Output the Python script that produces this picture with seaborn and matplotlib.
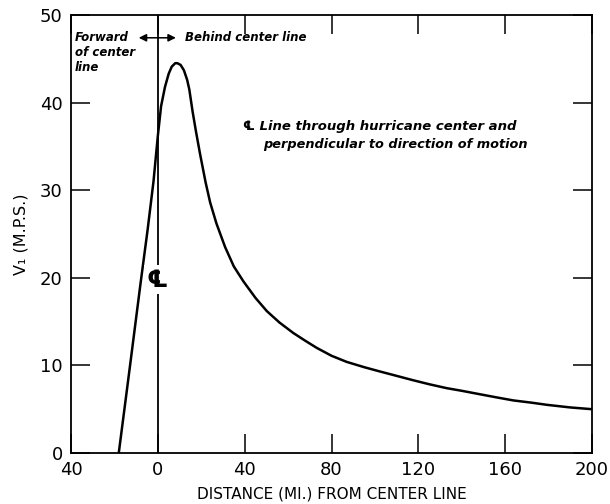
import matplotlib
matplotlib.use("Agg")
import matplotlib.pyplot as plt
import seaborn as sns
import pandas as pd

# Data
distance = [-18, -13, -8, -4.7, -2, 0, 1.5, 3.3, 5, 6.4, 8, 9, 10.5, 12, 13.5, 14.5,
            16, 17.5, 19.4, 22, 24.1, 27, 31, 35, 39.4, 45, 50.2, 56, 62.4, 68,
            73.2, 80, 87, 95, 102.4, 111.6, 117.7, 125, 133.1, 140, 148.5, 156,
            163.8, 172, 179.2, 190, 200]
v1 = [0, 9.6, 19.3, 25.5, 31, 36.2, 39.6, 41.8, 43.3, 44.1, 44.5, 44.5, 44.3, 43.7,
      42.6, 41.5, 39.0, 36.8, 34.2, 30.9, 28.6, 26.2, 23.5, 21.3, 19.6, 17.7,
      16.2, 14.9, 13.7, 12.8, 12.0, 11.1, 10.4, 9.8, 9.3, 8.7, 8.3, 7.85, 7.4,
      7.1, 6.7, 6.35, 6.0, 5.75, 5.5, 5.2, 5.0]
x_ticks = [-40, 0, 40, 80, 120, 160, 200]
x_tick_labels = ["40", "0", "40", "80", "120", "160", "200"]
y_ticks = [0, 10, 20, 30, 40, 50]
y_tick_labels = ["0", "10", "20", "30", "40", "50"]

df = pd.DataFrame({"distance": distance, "v1": v1})

sns.set_style("ticks")
plt.rcParams['font.family'] = ['DejaVu Sans']
plt.rcParams['text.color'] = 'black'
plt.rcParams['axes.labelcolor'] = 'black'

fig = plt.figure(figsize=(6.10, 5.04), dpi=100)
ax = fig.add_axes([0.1164, 0.1012, 0.8541, 0.8690])

sns.lineplot(data=df, x="distance", y="v1", ax=ax, color="black", linewidth=1.8,
             sort=False, estimator=None)

ax.set_xlim(-40, 200)
ax.set_ylim(0, 50)
ax.set_xticks(x_ticks)
ax.set_xticklabels(x_tick_labels)
ax.set_yticks(y_ticks)
ax.set_yticklabels(y_tick_labels)

for s in ax.spines.values():
    s.set_visible(True)
    s.set_linewidth(1.3)
    s.set_color("black")

ax.tick_params(axis="both", which="major", direction="in", length=13.5, width=1.1,
               top=True, right=True, labelsize=13, pad=6, colors="black")

ax.set_xlabel("DISTANCE (MI.) FROM CENTER LINE", fontsize=11, labelpad=5)
ax.set_ylabel("V\u2081 (M.P.S.)", fontsize=11.5, labelpad=8)

# center line
ax.axvline(0, color="black", linewidth=1.3, zorder=1)
ax.text(-0.3, 19.8, "\u2104", fontsize=17, fontweight="bold", ha="center", va="center",
        bbox=dict(facecolor="white", edgecolor="none", pad=1.5), zorder=3)

note = dict(fontsize=8.5, fontstyle="italic", fontweight="bold", color="black")
ax.text(-38.2, 48.2, "Forward\nof center\nline", ha="left", va="top",
        linespacing=1.2, **note)
ax.text(12.5, 47.4, "Behind center line", ha="left", va="center", **note)
ax.annotate("", xy=(-8.8, 47.4), xytext=(8.3, 47.4),
            arrowprops=dict(arrowstyle="<|-|>", color="black", lw=1.1,
                            mutation_scale=11, shrinkA=0, shrinkB=0))
ax.text(39.0, 37.3, "\u2104 Line through hurricane center and",
        ha="left", va="center", fontsize=9.5, fontstyle="italic", fontweight="bold")
ax.text(48.5, 35.2, "perpendicular to direction of motion",
        ha="left", va="center", fontsize=9.3, fontstyle="italic", fontweight="bold")

fig.savefig("out.png", dpi=100)
